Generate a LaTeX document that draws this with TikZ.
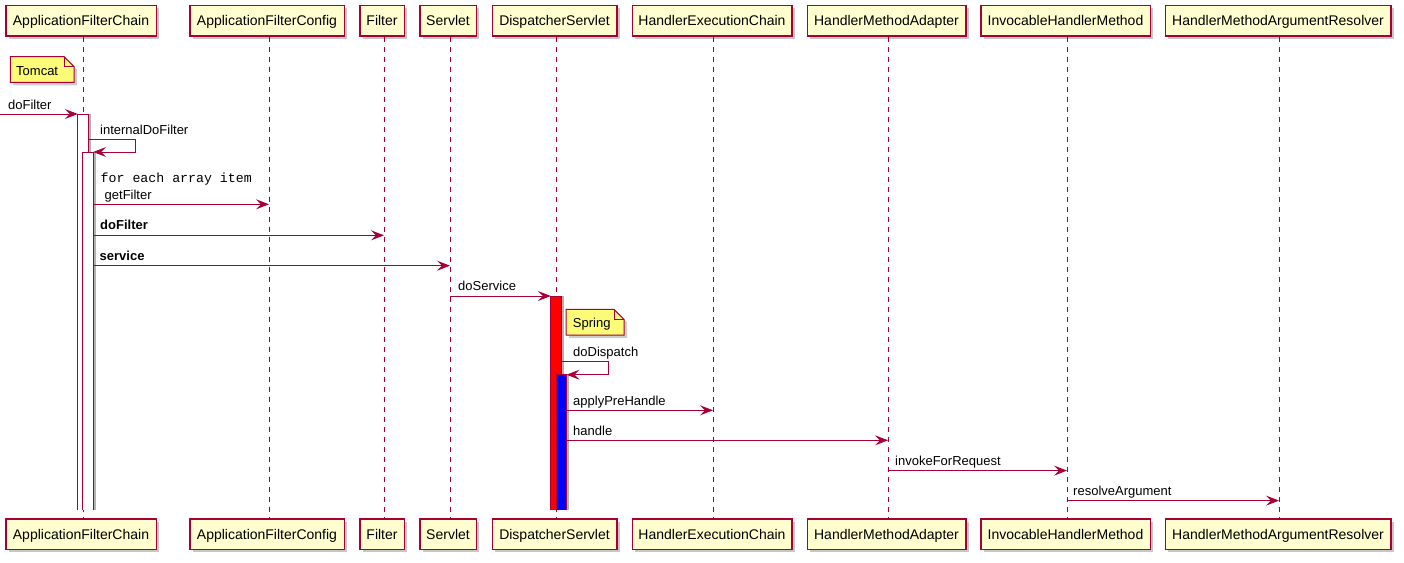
\documentclass[tikz,border=0pt]{standalone}
\usepackage{fontspec}
\setmainfont{Liberation Sans}
\newfontfamily\monofont{Liberation Mono}
\usetikzlibrary{arrows.meta,shadows}
\definecolor{pcrim}{HTML}{A80036}
\definecolor{pbox}{HTML}{FEFECE}
\definecolor{pnote}{HTML}{FBFB77}
\begin{document}
\begin{tikzpicture}[x=1pt,y=-1pt,
  part/.style={draw=pcrim, line width=1.5pt, fill=pbox, minimum height=30.5pt, inner sep=0pt,
    text height=10pt, text depth=0pt, font=\fontsize{14}{16}\selectfont,
    drop shadow={shadow xshift=3pt, shadow yshift=-3pt, fill=black, opacity=0.22}},
  life/.style={draw=pcrim, line width=1pt, dash pattern=on 5pt off 5pt},
  msg/.style={draw=pcrim, line width=1pt, -{Stealth[length=13pt,width=10pt,inset=5pt]}},
  lbl/.style={anchor=base west, inner sep=0pt, font=\fontsize{13}{15}\selectfont},
  actbar/.style={draw=none, minimum width=10pt, inner sep=0pt, anchor=north,
    drop shadow={shadow xshift=3pt, shadow yshift=0pt, fill=black, opacity=0.3}},
  barline/.style={draw=pcrim, line width=1pt},
  notebox/.style={draw=pcrim, line width=1pt, fill=pnote},
]
\useasboundingbox (0,0) rectangle (1404,562);

% participants (top)
\node[part, minimum width=150.5pt] (t1) at (81,20.5) {ApplicationFilterChain};
\node[part, minimum width=154.5pt] (t2) at (267,20.5) {ApplicationFilterConfig};
\node[part, minimum width=44.5pt]  (t3) at (382,20.5) {Filter};
\node[part, minimum width=56.5pt]  (t4) at (448,20.5) {Servlet};
\node[part, minimum width=124.5pt] (t5) at (554.5,20.5) {DispatcherServlet};
\node[part, minimum width=159.5pt] (t6) at (712,20.5) {HandlerExecutionChain};
\node[part, minimum width=158.5pt] (t7) at (886.5,20.5) {HandlerMethodAdapter};
\node[part, minimum width=169.5pt] (t8) at (1065.5,20.5) {InvocableHandlerMethod};
\node[part, minimum width=225.5pt] (t9) at (1278,20.5) {HandlerMethodArgumentResolver};

% participants (bottom)
\node[part, minimum width=150.5pt] (b1) at (81,534) {ApplicationFilterChain};
\node[part, minimum width=154.5pt] (b2) at (267,534) {ApplicationFilterConfig};
\node[part, minimum width=44.5pt]  (b3) at (382,534) {Filter};
\node[part, minimum width=56.5pt]  (b4) at (448,534) {Servlet};
\node[part, minimum width=124.5pt] (b5) at (554.5,534) {DispatcherServlet};
\node[part, minimum width=159.5pt] (b6) at (712,534) {HandlerExecutionChain};
\node[part, minimum width=158.5pt] (b7) at (886.5,534) {HandlerMethodAdapter};
\node[part, minimum width=169.5pt] (b8) at (1065.5,534) {InvocableHandlerMethod};
\node[part, minimum width=225.5pt] (b9) at (1278,534) {HandlerMethodArgumentResolver};

% lifelines
\coordinate (L1) at (83,36);
\coordinate (L2) at (269,36);
\coordinate (L3) at (384,36);
\coordinate (L4) at (450,36);
\coordinate (L5) at (556,36);
\coordinate (L6) at (713,36);
\coordinate (L7) at (888,36);
\coordinate (L8) at (1067,36);
\coordinate (L9) at (1279,36);
\foreach \i in {1,...,9} {
  \draw[life] (L\i |- t\i.south) -- (L\i |- b\i.north);
}

% Tomcat note
\begin{scope}[shift={(3,3)}]
  \fill[black, opacity=0.2] (10.3,56.7) -- (64,56.7) -- (74,66.7) -- (74,82.3) -- (10.3,82.3) -- cycle;
\end{scope}
\filldraw[notebox] (10.3,56.7) -- (64,56.7) -- (74,66.7) -- (74,82.3) -- (10.3,82.3) -- cycle;
\draw[notebox, fill=none] (64,56.7) -- (64,66.7) -- (74,66.7);
\node[lbl] (tomcat) at (16,75) {Tomcat};

% activation bars (open at the bottom)
\node[actbar, fill=white, minimum height=395.5pt] (a1) at (83,114) {};
\draw[barline] (a1.south west) -- (a1.north west) -- (a1.north east) -- (a1.south east);
\node[actbar, fill=white, minimum height=357.5pt] (a2) at (88,152) {};
\draw[barline] (a2.south west) -- (a2.north west) -- (a2.north east) -- (a2.south east);
\node[actbar, fill=red, minimum height=213.5pt] (d1) at (556,296) {};
\draw[barline] (d1.south west) -- (d1.north west) -- (d1.north east) -- (d1.south east);
\node[actbar, fill=blue, minimum height=135pt] (d2) at (561.3,374.5) {};
\draw[barline] (d2.south west) -- (d2.north west) -- (d2.north east) -- (d2.south east);

% Spring note
\begin{scope}[shift={(3,3)}]
  \fill[black, opacity=0.2] (566,309.3) -- (614,309.3) -- (624,319.3) -- (624,335) -- (566,335) -- cycle;
\end{scope}
\filldraw[notebox] (566,309.3) -- (614,309.3) -- (624,319.3) -- (624,335) -- (566,335) -- cycle;
\draw[notebox, fill=none] (614,309.3) -- (614,319.3) -- (624,319.3);
\node[lbl] (spring) at (572.7,327.5) {Spring};

% messages
\coordinate (src) at (0,114);
\draw[msg] (src) -- (a1.west |- src);
\node[lbl] (m1) at (8,109.3) {doFilter};

\draw[msg] (a1.east |- 0,139.3) -| (135.3,152) -- (a2.east |- 0,152);
\node[lbl] (m2) at (100,134.6) {internalDoFilter};

\node[lbl, font=\monofont\fontsize{13.25}{15}\selectfont] (m3a) at (100.5,182.8) {for each array item};
\node[lbl] (m3) at (104.5,199.2) {getFilter};
\draw[msg] (a2.east |- 0,204.3) -- (L2 |- 0,204.3);

\node[lbl, font=\bfseries\fontsize{13}{15}\selectfont] (m4) at (100,229.8) {doFilter};
\draw[msg] (a2.east |- 0,235.3) -- (L3 |- 0,235.3);

\node[lbl, font=\bfseries\fontsize{13}{15}\selectfont] (m5) at (99.5,260.3) {service};
\draw[msg] (a2.east |- 0,265.7) -- (L4 |- 0,265.7);

\node[lbl] (m6) at (458,290.8) {doService};
\draw[msg] (L4 |- 0,296) -- (d1.west |- 0,296);

\draw[msg] (d1.east |- 0,361.7) -| (608.7,374.7) -- (d2.east |- 0,374.7);
\node[lbl] (m7) at (573,356.5) {doDispatch};

\draw[msg] (d2.east |- 0,410.3) -- (L6 |- 0,410.3);
\node[lbl] (m8) at (573,405) {applyPreHandle};

\draw[msg] (d2.east |- 0,440.3) -- (L7 |- 0,440.3);
\node[lbl] (m9) at (573,435) {handle};

\draw[msg] (L7 |- 0,470.6) -- (L8 |- 0,470.6);
\node[lbl] (m10) at (895,465.3) {invokeForRequest};

\draw[msg] (L8 |- 0,500.6) -- (L9 |- 0,500.6);
\node[lbl] (m11) at (1073,495.3) {resolveArgument};

\end{tikzpicture}
\end{document}
